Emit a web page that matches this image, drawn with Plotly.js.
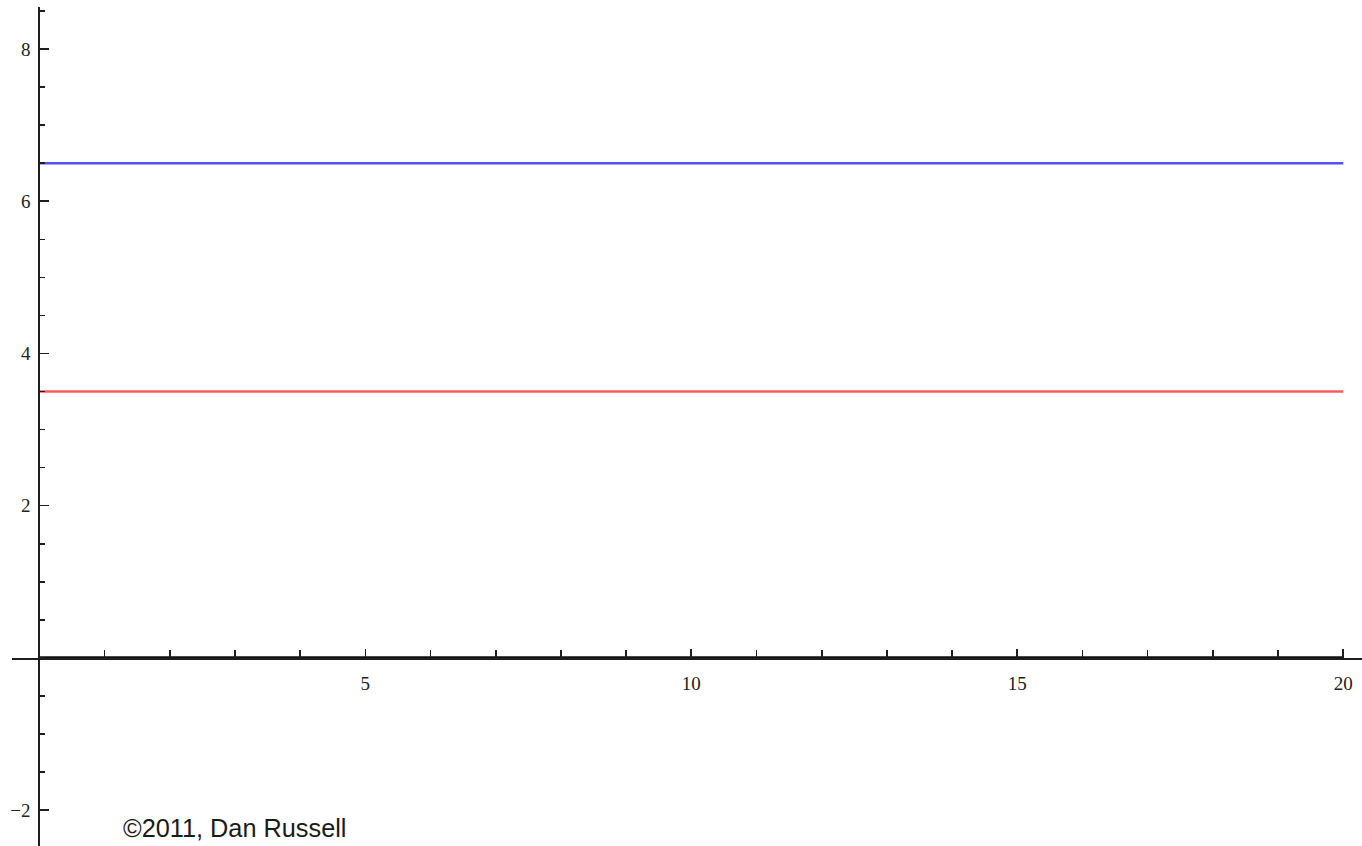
<!DOCTYPE html>
<html>
<head>
<meta charset="utf-8">
<script src="https://cdn.plot.ly/plotly-3.0.1.min.js"></script>
<style>
  html, body { margin: 0; padding: 0; background: #fff; }
  #chart { width: 1362px; height: 846px; }
</style>
</head>
<body>
<div id="chart"></div>
<script>
// Data
const xValues = [0, 20];
const blueValues = [6.5, 6.5];
const redValues = [3.5, 3.5];
const zeroValues = [0, 0];
const xTickVals = [5, 10, 15, 20];
const xTickText = ["5", "10", "15", "20"];
const yTickVals = [-2, 2, 4, 6, 8];
const yTickText = ["\u22122", "2", "4", "6", "8"];
const credit = "\u00a92011, Dan Russell";

const traces = [
  { x: xValues, y: zeroValues, mode: "lines", line: { color: "#111111", width: 3.4 }, hoverinfo: "skip" },
  { x: xValues, y: blueValues, mode: "lines", line: { color: "rgb(80,80,255)", width: 2.5 } },
  { x: xValues, y: redValues, mode: "lines", line: { color: "rgb(255,90,90)", width: 2.5 } }
];

const tickFont = { family: "Liberation Serif, Times New Roman, serif", size: 19, color: "#222222" };

const layout = {
  width: 1362,
  height: 846,
  margin: { l: 12, r: 0, t: 7, b: 0 },
  paper_bgcolor: "#ffffff",
  plot_bgcolor: "#ffffff",
  showlegend: false,
  xaxis: {
    range: [-0.419, 20.287],
    anchor: "free",
    position: 0.2242,
    side: "bottom",
    showgrid: false,
    zeroline: false,
    showline: true,
    linecolor: "#1e1e1e",
    linewidth: 1.8,
    ticks: "inside",
    ticklen: 9,
    tickwidth: 1.6,
    tickcolor: "#1e1e1e",
    tickmode: "array",
    tickvals: xTickVals,
    ticktext: xTickText,
    tickfont: tickFont,
    ticklabelstandoff: 8,
    minor: { dtick: 1, tick0: 0, ticks: "inside", ticklen: 8, tickwidth: 1.6, tickcolor: "#1e1e1e", showgrid: false }
  },
  yaxis: {
    range: [-2.472, 8.553],
    anchor: "free",
    position: 0.02022,
    side: "left",
    showgrid: false,
    zeroline: false,
    showline: true,
    linecolor: "#1e1e1e",
    linewidth: 2,
    ticks: "inside",
    ticklen: 9,
    tickwidth: 1.6,
    tickcolor: "#1e1e1e",
    tickmode: "array",
    tickvals: yTickVals,
    ticktext: yTickText,
    tickfont: tickFont,
    ticklabelstandoff: 4,
    minor: { dtick: 0.5, tick0: 0, ticks: "inside", ticklen: 5, tickwidth: 1.6, tickcolor: "#1e1e1e", showgrid: false }
  },
  annotations: [{
    text: credit,
    xref: "paper", yref: "paper",
    x: 0.0807, y: 0.0215,
    xanchor: "left", yanchor: "middle",
    showarrow: false,
    font: { family: "Liberation Sans, Arial, sans-serif", size: 25.3, color: "#1a1a1a" }
  }]
};

Plotly.newPlot("chart", traces, layout, { displayModeBar: false, staticPlot: true });
</script>
</body>
</html>
